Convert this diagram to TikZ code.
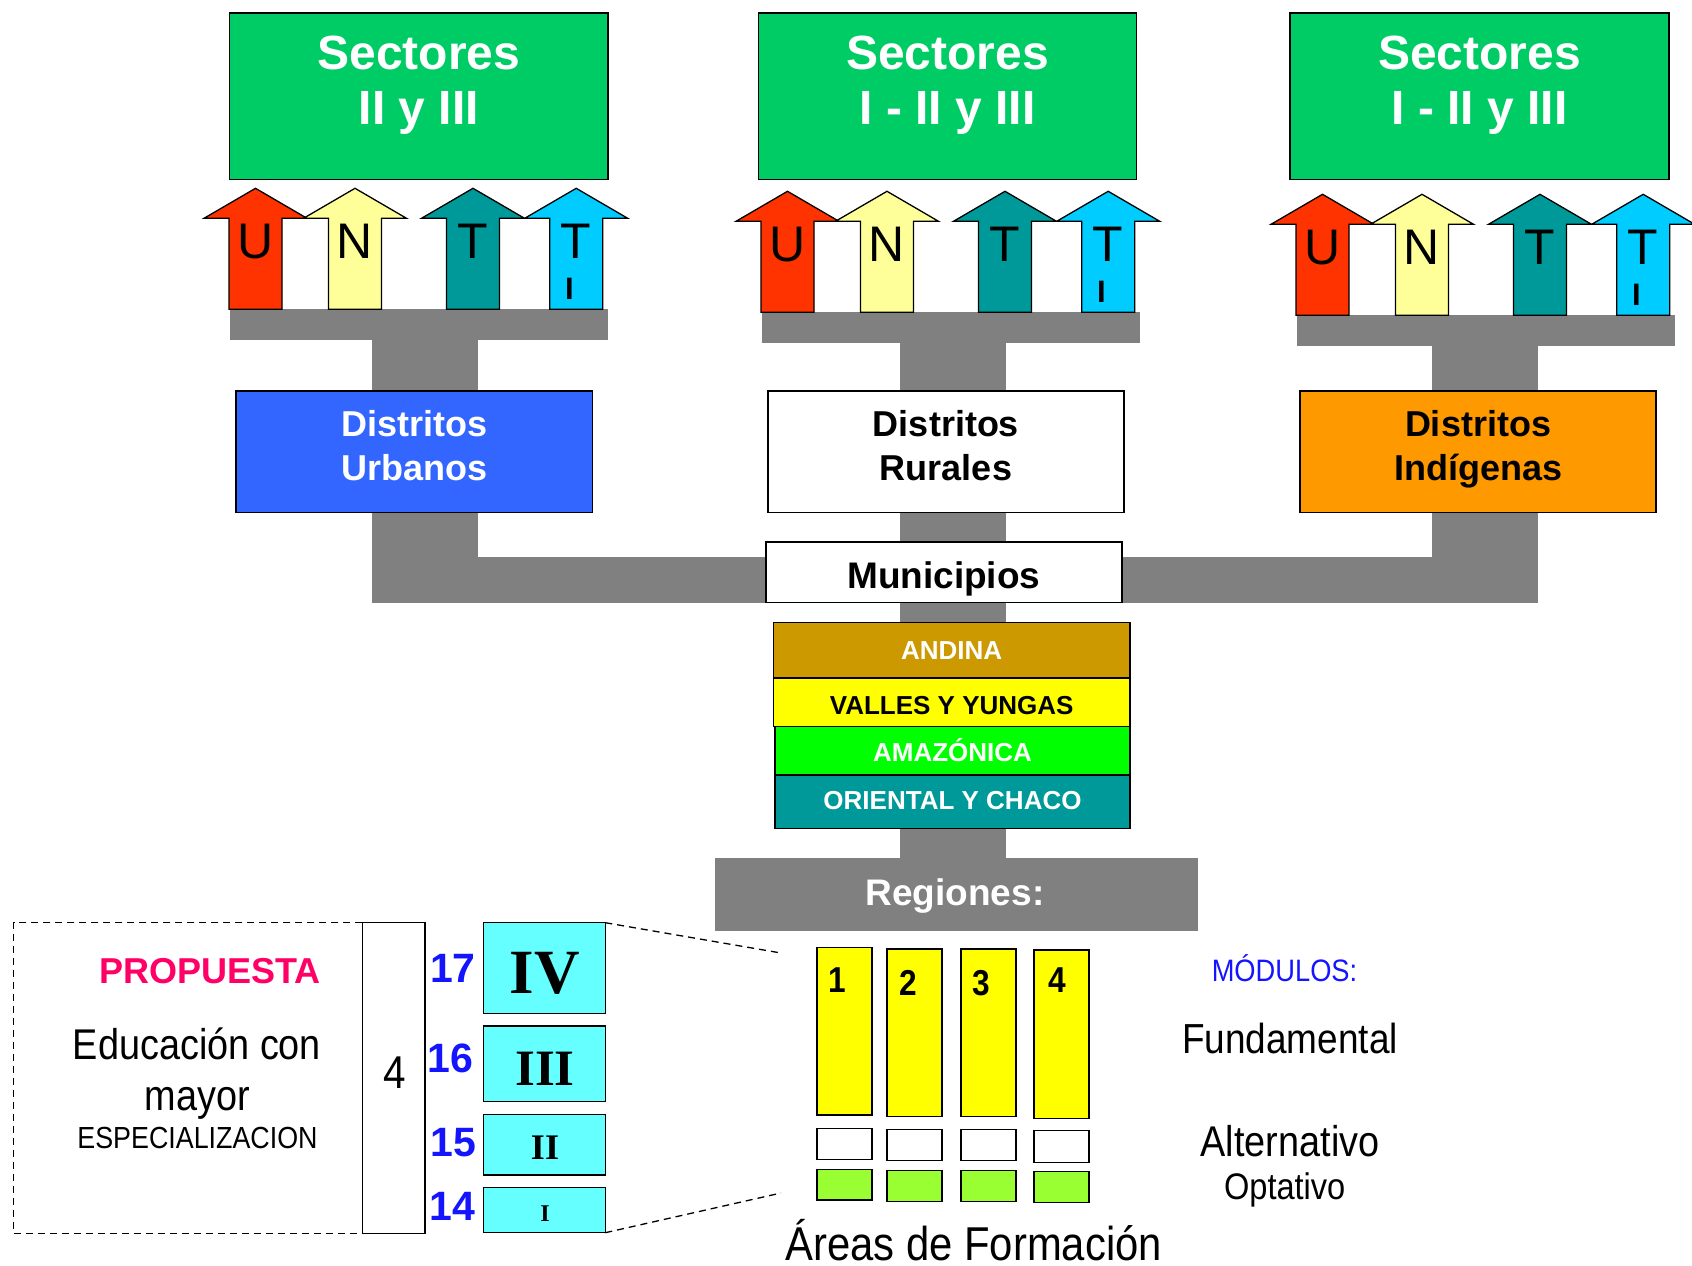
\documentclass[tikz,border=0pt]{standalone}
\usepackage{fontspec}
\setmainfont{Liberation Sans}
\newfontfamily\narrowf[FakeStretch=0.88]{Liberation Sans}
\newfontfamily\serff{Liberation Serif}
\newcommand\fsz[1]{\fontsize{#1}{#1}\selectfont}
\definecolor{barGray}{HTML}{808080}
\definecolor{secGreen}{HTML}{00CC66}
\definecolor{uRed}{HTML}{FF3300}
\definecolor{nYel}{HTML}{FFFF99}
\definecolor{tTeal}{HTML}{009999}
\definecolor{tiCyan}{HTML}{00CCFF}
\definecolor{urbBlue}{HTML}{3366FF}
\definecolor{indOrange}{HTML}{FF9900}
\definecolor{andGold}{HTML}{CC9900}
\definecolor{valYel}{HTML}{FFFF00}
\definecolor{amaGreen}{HTML}{00FF00}
\definecolor{oriTeal}{HTML}{009999}
\definecolor{lvlCyan}{HTML}{66FFFF}
\definecolor{modGreen}{HTML}{99FF33}
\definecolor{propPink}{HTML}{FF0066}
\definecolor{numBlue}{HTML}{1414FF}
\newcommand\UpArr[3]{%
  \draw[line width=1.3pt, line join=miter, fill=#3]
    (#1-51.5,#2+30) -- (#1,#2) -- (#1+51.5,#2+30) -- (#1+26.5,#2+30)
    -- (#1+26.5,#2+121) -- (#1-26.5,#2+121) -- (#1-26.5,#2+30) -- cycle;}
\tikzset{
  box/.style={draw=black, line width=1.5pt, inner sep=0pt, outer sep=0pt},
  bar/.style={fill=barGray, draw=none},
  lbl/.style={anchor=base, inner sep=0pt, outer sep=0pt},
}
\begin{document}
\begin{tikzpicture}[x=1pt, y=-1pt]
\useasboundingbox (0,0) rectangle (1692,1266);
% ---------- gray connector bars ----------
\foreach \dx/\dy in {0/0, 532/3, 1067/6} {
  \fill[barGray] (\dx+230,\dy+309.3) rectangle (\dx+608,\dy+340);
}
\fill[barGray] (372,340) rectangle (478,392);
\fill[barGray] (900,343) rectangle (1006,392);
\fill[barGray] (1432,346) rectangle (1538.4,392);
\fill[barGray] (372,511) rectangle (478,602.7);
\fill[barGray] (478,557.1) rectangle (767,602.7);
\fill[barGray] (1432,511) rectangle (1538.4,602.7);
\fill[barGray] (1121,557.1) rectangle (1538.4,602.7);
\fill[barGray] (900,511) rectangle (1006,543);
\fill[barGray] (900,601) rectangle (1006,624);
\fill[barGray] (900,827) rectangle (1006,858);
% ---------- Sectores boxes ----------
\node[box, fill=secGreen, minimum width=378.8pt, minimum height=166.7pt] (sec1) at (418.8,96.25) {};
\node[box, fill=secGreen, minimum width=377.7pt, minimum height=166.7pt] (sec2) at (947.5,96.25) {};
\node[box, fill=secGreen, minimum width=379pt, minimum height=166.7pt] (sec3) at (1479.5,96.25) {};
\node[lbl, text=white, font=\bfseries\fsz{48}] (sec1a) at (418.8,69.4) {Sectores};
\node[lbl, text=white, font=\bfseries\fsz{48}] (sec1b) at (418.8,124.3) {II y III};
\node[lbl, text=white, font=\bfseries\fsz{48}] (sec2a) at (947.5,69.4) {Sectores};
\node[lbl, text=white, font=\bfseries\fsz{48}] (sec2b) at (947.5,124.3) {I - II y III};
\node[lbl, text=white, font=\bfseries\fsz{48}] (sec3a) at (1479.5,69.4) {Sectores};
\node[lbl, text=white, font=\bfseries\fsz{48}] (sec3b) at (1479.5,124.3) {I - II y III};
% ---------- U N T TI arrows ----------
\foreach \dx/\dy in {0/0, 532/3, 1067/6} {
  \UpArr{\dx+255.5}{\dy+188.3}{uRed}
  \UpArr{\dx+355}{\dy+188.3}{nYel}
  \UpArr{\dx+473}{\dy+188.3}{tTeal}
  \UpArr{\dx+576.2}{\dy+188.3}{tiCyan}
  \node[lbl, font=\fsz{50}] (u-\dx) at (\dx+255.5,\dy+258.3) {U};
  \node[lbl, font=\fsz{50}] (n-\dx) at (\dx+355,\dy+258.3) {N};
  \node[lbl, font=\fsz{50}] (t-\dx) at (\dx+473,\dy+258.3) {T};
  \node[lbl, font=\fsz{50}] (ti-\dx) at (\dx+576.2,\dy+258.3) {T};
  \node[lbl, font=\bfseries\fsz{31}] (tii-\dx) at (\dx+569.3,\dy+299) {I};
}
% ---------- Distritos ----------
\node[box, fill=urbBlue, minimum width=356.8pt, minimum height=121.9pt] (urb) at (414.2,451.75) {};
\node[box, fill=white, minimum width=356pt, minimum height=121.9pt] (rur) at (946,451.75) {};
\node[box, fill=indOrange, minimum width=356pt, minimum height=121.9pt] (ind) at (1478,451.75) {};
\node[lbl, text=white, font=\bfseries\fsz{36}] (urba) at (414.2,436.8) {Distritos};
\node[lbl, text=white, font=\bfseries\fsz{36}] (urbb) at (414.2,480.4) {Urbanos};
\node[lbl, font=\bfseries\fsz{36}] (rura) at (946,436.8) {Distritos};
\node[lbl, font=\bfseries\fsz{36}] (rurb) at (946,480.4) {Rurales};
\node[lbl, font=\bfseries\fsz{36}] (inda) at (1478,436.8) {Distritos};
\node[lbl, font=\bfseries\fsz{36}] (indb) at (1478,480.4) {Indígenas};
% ---------- Municipios ----------
\node[box, fill=white, minimum width=356pt, minimum height=60.9pt] (mun) at (943.8,572.25) {};
\node[lbl, font=\bfseries\fsz{37}] (munt) at (943.8,588.3) {Municipios};
% ---------- Regions ----------
\node[box, fill=andGold, minimum width=356.7pt, minimum height=55.3pt] (and) at (951.7,650.35) {};
\node[box, fill=valYel, minimum width=356.7pt, minimum height=48.7pt] (val) at (951.7,702.35) {};
\node[box, fill=amaGreen, minimum width=355pt, minimum height=48.3pt] (ama) at (952.5,750.85) {};
\node[box, fill=oriTeal, minimum width=355pt, minimum height=53.7pt] (ori) at (952.5,801.85) {};
\node[lbl, text=white, font=\bfseries\fsz{26}] (andt) at (951.7,659.3) {ANDINA};
\node[lbl, font=\bfseries\fsz{26}] (valt) at (951.7,714.3) {VALLES Y YUNGAS};
\node[lbl, text=white, font=\bfseries\fsz{26}] (amat) at (952.5,761.7) {AMAZÓNICA};
\node[lbl, text=white, font=\bfseries\fsz{26}] (orit) at (952.5,809.3) {ORIENTAL Y CHACO};
\node[fill=barGray, inner sep=0pt, minimum width=482.8pt, minimum height=73.5pt] (reg) at (956.4,894.25) {};
\node[lbl, text=white, font=\bfseries\fsz{37}] (regt) at (955,905) {Regiones:};
% ---------- Propuesta ----------
\draw[line width=1.3pt, dash pattern=on 7pt off 5pt] (362.4,922.7) -- (13.5,922.7) -- (13.5,1233.3) -- (362.4,1233.3);
\node[box, fill=white, minimum width=62.5pt, minimum height=310.6pt] (four) at (393.65,1078) {};
\node[lbl, font=\narrowf\fsz{46}] (fourt) at (395,1088.3) {4};
\node[lbl, text=propPink, font=\bfseries\fsz{36}] (prop) at (210,983.3) {PROPUESTA};
\node[lbl, font=\narrowf\fsz{43}] (edu1) at (197,1059.5) {Educación con};
\node[lbl, font=\narrowf\fsz{43}] (edu2) at (197.3,1110) {mayor};
\node[lbl, font=\narrowf\fsz{30.5}] (edu3) at (197.5,1148.3) {ESPECIALIZACION};
% ---------- levels ----------
\node[box, fill=lvlCyan, minimum width=121.6pt, minimum height=90.6pt] (lv4) at (544.5,968) {};
\node[box, fill=lvlCyan, minimum width=121.6pt, minimum height=75.7pt] (lv3) at (544.5,1063.85) {};
\node[box, fill=lvlCyan, minimum width=121.6pt, minimum height=60.7pt] (lv2) at (544.5,1144.65) {};
\node[box, fill=lvlCyan, minimum width=121.6pt, minimum height=45.4pt] (lv1) at (544.5,1210) {};
\node[lbl, font=\serff\bfseries\fsz{63}] (lv4t) at (545,993.3) {IV};
\node[lbl, font=\serff\bfseries\fsz{51}] (lv3t) at (545,1085) {III};
\node[lbl, font=\serff\bfseries\fsz{36}] (lv2t) at (545,1159.3) {II};
\node[lbl, font=\serff\bfseries\fsz{24}] (lv1t) at (545,1221.7) {I};
\node[lbl, text=numBlue, font=\bfseries\fsz{41}] (n17) at (453,982.7) {17};
\node[lbl, text=numBlue, font=\bfseries\fsz{41}] (n16) at (450.6,1072.7) {16};
\node[lbl, text=numBlue, font=\bfseries\fsz{41}] (n15) at (453.7,1156) {15};
\node[lbl, text=numBlue, font=\bfseries\fsz{41}] (n14) at (452.6,1220.7) {14};
% ---------- modules ----------
\node[box, fill=valYel, minimum width=55pt, minimum height=167.7pt] (y1) at (844.4,1031.15) {};
\node[box, fill=valYel, minimum width=55pt, minimum height=167.7pt] (y2) at (914.4,1032.85) {};
\node[box, fill=valYel, minimum width=55pt, minimum height=167.7pt] (y3) at (988.25,1032.85) {};
\node[box, fill=valYel, minimum width=55pt, minimum height=168.3pt] (y4) at (1061.25,1034.15) {};
\node[box, fill=white, minimum width=55pt, minimum height=31pt] (w1) at (844.4,1143.8) {};
\node[box, fill=white, minimum width=55pt, minimum height=31.4pt] (w2) at (914.4,1145) {};
\node[box, fill=white, minimum width=55pt, minimum height=31.4pt] (w3) at (988.25,1145) {};
\node[box, fill=white, minimum width=55pt, minimum height=32pt] (w4) at (1061.25,1146.7) {};
\node[box, fill=modGreen, minimum width=55pt, minimum height=30.7pt] (g1) at (844.4,1184.65) {};
\node[box, fill=modGreen, minimum width=55pt, minimum height=31pt] (g2) at (914.4,1185.8) {};
\node[box, fill=modGreen, minimum width=55pt, minimum height=31pt] (g3) at (988.25,1185.8) {};
\node[box, fill=modGreen, minimum width=55pt, minimum height=31pt] (g4) at (1061.25,1187.2) {};
\node[lbl, font=\narrowf\bfseries\fsz{36}] (y1t) at (837,992.7) {1};
\node[lbl, font=\narrowf\bfseries\fsz{36}] (y2t) at (908.7,995) {2};
\node[lbl, font=\narrowf\bfseries\fsz{36}] (y3t) at (981.6,995) {3};
\node[lbl, font=\narrowf\bfseries\fsz{36}] (y4t) at (1057.7,992.7) {4};
\node[lbl, font=\narrowf\fsz{47.5}] (areas) at (973.7,1260) {Áreas de Formación};
\node[lbl, text=numBlue, font=\narrowf\fsz{31}] (mods) at (1284.5,981.7) {MÓDULOS:};
\node[lbl, font=\narrowf\fsz{42}] (fund) at (1290,1053.3) {Fundamental};
\node[lbl, font=\narrowf\fsz{43}] (alt) at (1290,1156.7) {Alternativo};
\node[lbl, font=\narrowf\fsz{37}] (opt) at (1284.7,1199) {Optativo};
% ---------- zoom dashed lines ----------
\coordinate (zt) at (781,953);
\coordinate (zb) at (781,1193);
\draw[line width=1.3pt, dash pattern=on 7pt off 5pt] (lv4.north east) -- (zt);
\draw[line width=1.3pt, dash pattern=on 7pt off 5pt] (lv1.south east) -- (zb);
\end{tikzpicture}
\end{document}
